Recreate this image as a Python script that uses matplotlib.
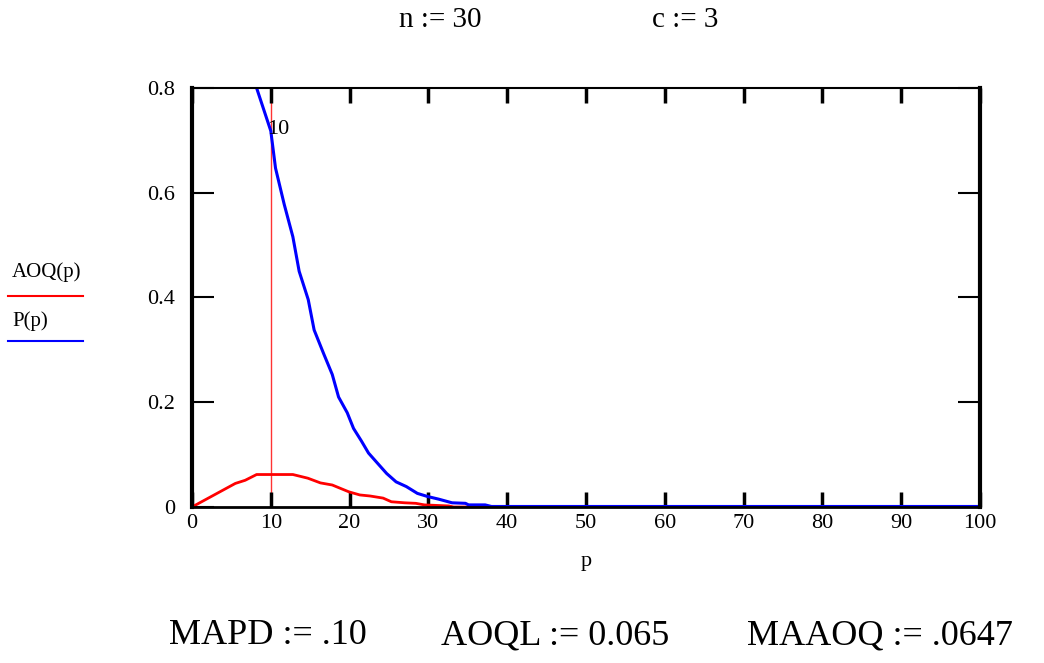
import matplotlib
matplotlib.use("Agg")
import matplotlib.pyplot as plt

plt.rcParams['font.family'] = ['Liberation Serif', 'DejaVu Serif']

# values (p in percent)
p_oc = [8.2, 10.0, 10.6, 11.7, 12.8, 13.6, 14.75, 15.5, 16.7, 17.8, 18.6, 19.7, 20.5,
        21.5, 22.4, 23.4, 24.7, 25.9, 27.2, 28.6, 29.9, 31.3, 33.0, 34.7, 35.1, 37.2,
        38.0, 100.0]
P_vals = [0.80, 0.718, 0.647, 0.578, 0.516, 0.450, 0.396, 0.338, 0.293, 0.253, 0.210,
          0.180, 0.150, 0.126, 0.103, 0.086, 0.064, 0.048, 0.039, 0.026, 0.020, 0.015,
          0.008, 0.007, 0.004, 0.004, 0.001, 0.001]

p_aoq = [0.0, 5.5, 6.75, 8.2, 12.8, 14.7, 16.3, 17.8, 19.9, 21.3, 22.6, 24.25, 25.3,
         27.0, 28.4, 29.5, 32.6, 33.2, 100.0]
AOQ_vals = [0.0, 0.045, 0.051, 0.062, 0.062, 0.055, 0.046, 0.042, 0.029, 0.023, 0.021,
            0.017, 0.010, 0.008, 0.007, 0.004, 0.002, 0.0, 0.0]

x_ticks = list(range(0, 101, 10))
y_ticks = [0, 0.2, 0.4, 0.6, 0.8]
y_labels = ['0', '0.2', '0.4', '0.6', '0.8']
mapd = 10

fig = plt.figure(figsize=(10.44, 6.63), dpi=100)
ax = fig.add_axes([0.1839, 0.2353, 0.7548, 0.632])

ax.plot(p_aoq, AOQ_vals, color='red', lw=2)
ax.plot(p_oc, P_vals, color='blue', lw=2.2)
ax.axvline(mapd, color='red', lw=1.0, alpha=0.8, zorder=1)
ax.text(mapd - 0.5, 0.72, '10', ha='left', va='center', fontsize=16)

ax.set_xlim(0, 100)
ax.set_ylim(0, 0.8)
ax.set_xticks(x_ticks)
ax.set_yticks(y_ticks)
ax.set_yticklabels(y_labels)
ax.tick_params(axis='x', direction='in', top=True, length=11, width=2.5,
               labelsize=16, pad=5)
ax.tick_params(axis='y', direction='in', right=True, length=16, width=1.5,
               labelsize=16, pad=12)
ax.spines['left'].set_linewidth(3)
ax.spines['right'].set_linewidth(3)
ax.spines['top'].set_linewidth(1.5)
ax.spines['bottom'].set_linewidth(2)

ax.set_xlabel('p', fontsize=16, labelpad=14)

# legend on the left, Mathcad style
fig.text(12 / 1044, 1 - 272 / 663, 'AOQ(p)', fontsize=15, va='center', ha='left')
fig.add_artist(plt.Line2D([8 / 1044, 83 / 1044], [1 - 296 / 663] * 2, color='red', lw=1.5))
fig.text(12 / 1044, 1 - 321 / 663, 'P(p)', fontsize=15, va='center', ha='left')
fig.add_artist(plt.Line2D([8 / 1044, 83 / 1044], [1 - 341 / 663] * 2, color='blue', lw=1.5))

fig.text(440 / 1044, 1 - 20 / 663, 'n := 30', fontsize=21, ha='center', va='center')
fig.text(685 / 1044, 1 - 20 / 663, 'c := 3', fontsize=21, ha='center', va='center')

fig.text(268 / 1044, 1 - 636 / 663, 'MAPD := .10', fontsize=26, ha='center', va='center')
fig.text(555 / 1044, 1 - 636 / 663, 'AOQL := 0.065', fontsize=26, ha='center', va='center')
fig.text(880 / 1044, 1 - 636 / 663, 'MAAOQ := .0647', fontsize=26, ha='center', va='center')

fig.savefig('out.png', dpi=100)
